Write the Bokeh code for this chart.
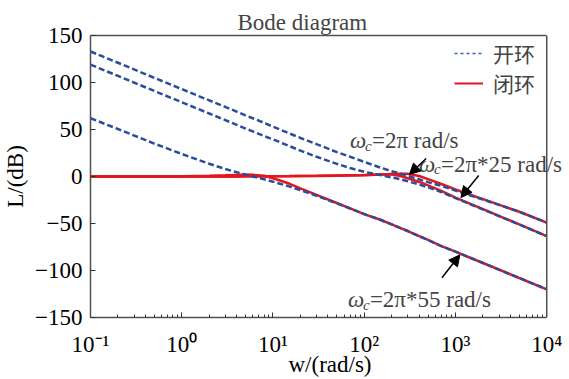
from bokeh.plotting import figure
from bokeh.models import (FixedTicker, Label, Arrow, NormalHead, Legend, LegendItem,
                          LogAxis, Span)
from bokeh.embed import file_html
from bokeh.resources import INLINE

# ---------------- data ----------------
w = [0.1, 0.2, 0.5, 1, 2, 3, 4, 5, 6, 8, 10, 15, 20, 30, 50, 70, 100, 150, 200,
     250, 300, 400, 500, 700, 1000, 2000, 5000, 10000]

open_a = [133, 121, 105, 93, 81, 74, 69, 65, 62, 57, 53, 46, 41, 34.5, 26, 21, 15.5,
          9.5, 5.5, 3, 0.5, -3, -6, -10, -15, -24.5, -37.5, -49]
open_b = [119, 107, 91, 79, 67, 60, 55, 51, 48, 43, 39.5, 32.5, 27.5, 21, 13.5, 9, 5,
          1.5, -1, -3, -5, -8.5, -11.5, -16.5, -23, -35, -51, -63.5]
open_c = [62, 50.5, 35, 24, 13.5, 8, 4.5, 2, 0, -3, -5.5, -10.5, -14.5, -20.5, -28.5,
          -34, -40, -46, -51, -55, -58, -63.5, -67.5, -74, -80, -92, -108, -120]

closed_a = [0, 0, 0, 0, 0.05, 0.1, 0.1, 0.15, 0.15, 0.2, 0.2, 0.3, 0.4, 0.5, 0.8, 1.0,
            1.4, 2.0, 2.6, 3.0, 2.8, 0.5, -2.8, -8, -13.8, -24, -37.5, -49]
closed_b = [0, 0, 0, 0, 0.05, 0.1, 0.1, 0.15, 0.15, 0.2, 0.3, 0.4, 0.5, 0.7, 1.1, 1.3,
            1.5, 2.2, 2.0, 0.5, -1.8, -5.8, -9.5, -15.3, -22.5, -34.8, -51, -63.5]
closed_c = [0, 0, 0.1, 0.3, 0.8, 1.3, 1.7, 2.0, 1.8, 0.8, -1.8, -7.5, -12.6, -19.5,
            -28.2, -33.9, -40, -46, -51, -55, -58, -63.5, -67.5, -74, -80, -92, -108, -120]

x_major = [0.1, 1, 10, 100, 1000, 10000]
x_labels = ["10⁻¹", "10⁰", "10¹", "10²", "10³", "10⁴"]
y_major = [-150, -100, -50, 0, 50, 100, 150]
y_labels = ["−150", "−100", "−50", "0", "50", "100", "150"]

note_x = [69.7, 398, 66.2]
note_y = [38, 13, -131]
note_text = ["=2π rad/s", "=2π*25 rad/s", "=2π*55 rad/s"]

arrow_x_start = [477, 1795, 711]
arrow_y_start = [19.2, 1.1, -107.8]
arrow_x_end = [312, 1146, 1117]
arrow_y_end = [2.1, -22.4, -83.3]

legend_labels = ["开环", "闭环"]

# ---------------- styles ----------------
SERIF = "Liberation Serif"
BLUE = "#2a4c9c"
RED = "#e3161d"
FRAME = "#505050"
FS = "23px"
X_LO, X_HI = 0.1, 10000
# the frame runs to the canvas edge so the label that crosses the right
# border is not clipped; the visible border is drawn at 10^4
X_VIEW_HI = 17760

p = figure(width=569, height=379, x_axis_type="log",
           x_range=(X_LO, X_VIEW_HI), y_range=(-150, 150),
           output_backend="svg", toolbar_location=None,
           min_border_left=85, min_border_right=0,
           min_border_top=35, min_border_bottom=62)

p.background_fill_color = "white"
p.border_fill_color = "white"
p.outline_line_color = None
p.xgrid.visible = False
p.ygrid.visible = False

p.title.text = "Bode diagram"
p.title.text_font = SERIF
p.title.text_font_size = FS
p.title.text_font_style = "normal"
p.title.align = "left"
p.title.offset = 147
p.title.standoff = 2

minors = []
for m in x_major[:-1]:
    for k in range(2, 10):
        minors.append(m * k)

xa = p.xaxis[0]
xa.ticker = FixedTicker(ticks=x_major, minor_ticks=minors)
ov = {}
for t, lab in zip(x_major, x_labels):
    ov[float(t)] = lab
xa.major_label_overrides = ov
xa.axis_label = "w/(rad/s)"
xa.bounds = (X_LO, X_HI)

ya = p.yaxis[0]
ya.ticker = FixedTicker(ticks=y_major, minor_ticks=[])
ovy = {}
for t, lab in zip(y_major, y_labels):
    ovy[float(t)] = lab
ya.major_label_overrides = ovy
ya.axis_label = "L/(dB)"

for ax in (xa, ya):
    ax.axis_line_color = FRAME
    ax.axis_line_width = 1.5
    ax.major_tick_in = 5
    ax.major_tick_out = 0
    ax.minor_tick_in = 3
    ax.minor_tick_out = 0
    ax.major_tick_line_color = "#333333"
    ax.minor_tick_line_color = "#333333"
    ax.major_label_text_font = SERIF
    ax.major_label_text_font_size = FS
    ax.major_label_text_color = "black"
    ax.axis_label_text_font = SERIF
    ax.axis_label_text_font_size = FS
    ax.axis_label_text_font_style = "normal"
    ax.axis_label_text_color = "black"
xa.major_label_standoff = 14
xa.axis_label_standoff = -8
ya.major_label_standoff = 8
ya.axis_label_standoff = 4

# top border as a bare axis limited to the data extent
top = LogAxis(ticker=FixedTicker(ticks=[], minor_ticks=[]), bounds=(X_LO, X_HI),
              axis_line_color=FRAME, axis_line_width=1.5,
              major_tick_in=0, major_tick_out=0, minor_tick_in=0, minor_tick_out=0,
              major_label_standoff=0)
p.add_layout(top, "above")
# right border
p.add_layout(Span(location=X_HI, dimension="height", line_color=FRAME, line_width=1.5))

# closed loop (solid red) first, open loop (dashed blue) on top
for ys in (closed_a, closed_b, closed_c):
    p.line(w, ys, line_color=RED, line_width=2.5)
for ys in (open_a, open_b, open_c):
    p.line(w, ys, line_color=BLUE, line_width=2.5, line_dash="6 3")

# legend proxies (kept outside the visible range)
leg_blue = p.line(x=[0.001, 0.002], y=[0, 0], line_color="#3b62b5", line_width=1.5,
                  line_dash="3 3")
leg_red = p.line(x=[0.001, 0.002], y=[0, 0], line_color=RED, line_width=2)
legend = Legend(items=[LegendItem(label=legend_labels[0], renderers=[leg_blue]),
                       LegendItem(label=legend_labels[1], renderers=[leg_red])],
                location=(364, 219))
legend.background_fill_alpha = 0
legend.border_line_alpha = 0
legend.label_text_font = "Noto Sans CJK SC"
legend.label_text_font_size = "21px"
legend.label_text_line_height = 1.0
legend.glyph_width = 29
legend.glyph_height = 20
legend.label_height = 20
legend.spacing = -8
legend.padding = 0
legend.margin = 0
legend.label_standoff = 10
p.add_layout(legend)

# annotations
for x0, y0, txt in zip(note_x, note_y, note_text):
    p.add_layout(Label(x=x0, y=y0, text="ω", text_font=SERIF, text_font_style="italic",
                       text_font_size=FS, text_baseline="alphabetic"))
    p.add_layout(Label(x=x0, y=y0, x_offset=15, y_offset=-5, text="c", text_font=SERIF,
                       text_font_style="italic", text_font_size="15px",
                       text_baseline="alphabetic"))
    p.add_layout(Label(x=x0, y=y0, x_offset=22, text=txt, text_font=SERIF,
                       text_font_size=FS, text_baseline="alphabetic"))

for xs, ys, xe, ye in zip(arrow_x_start, arrow_y_start, arrow_x_end, arrow_y_end):
    p.add_layout(Arrow(x_start=xs, y_start=ys, x_end=xe, y_end=ye,
                       line_color="black", line_width=1.5,
                       end=NormalHead(size=11, fill_color="black", line_color="black")))

open("out.html", "w").write(file_html(p, INLINE))
